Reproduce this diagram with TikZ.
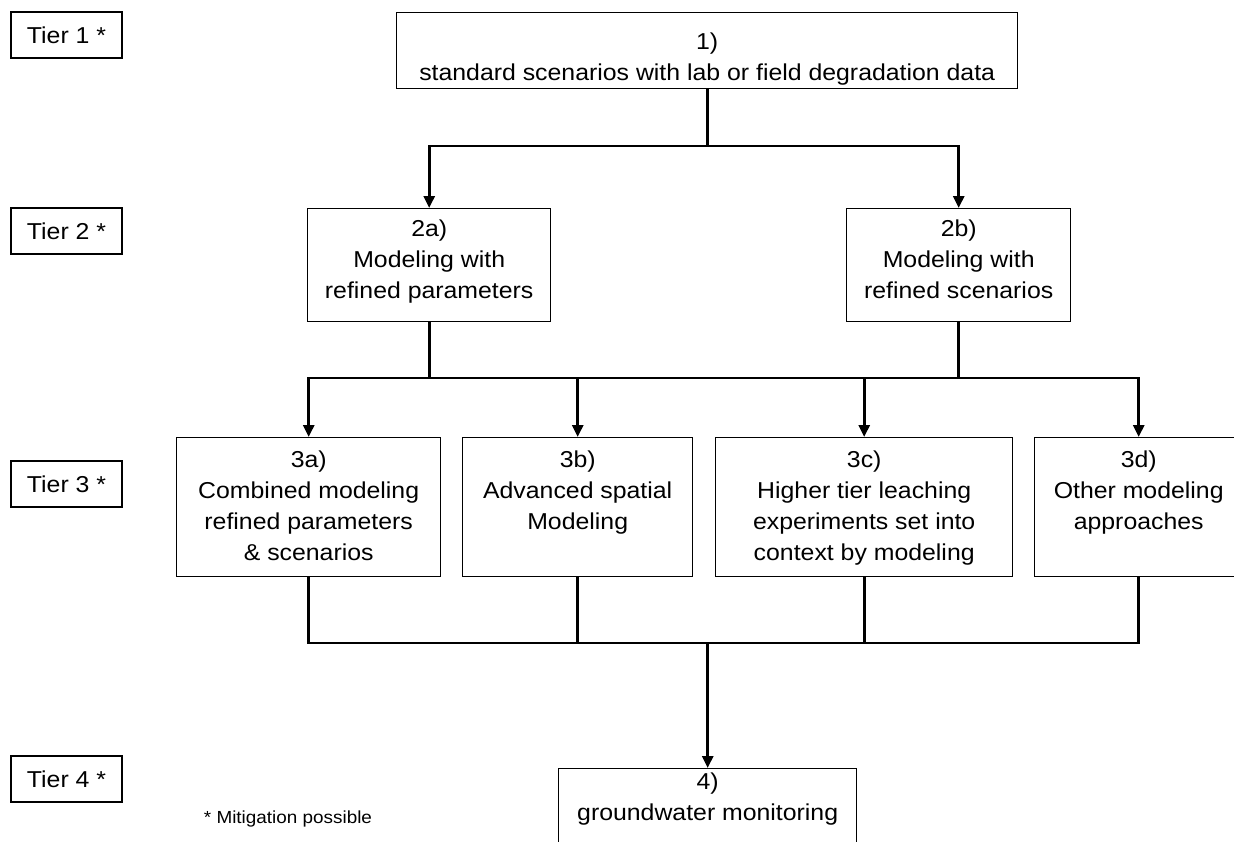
\documentclass[tikz,border=0pt]{standalone}
\usepackage{fontspec}
\setmainfont{Liberation Sans}[FakeStretch=1.08]
\usetikzlibrary{arrows.meta}
\begin{document}
\begin{tikzpicture}[x=1pt,y=-1pt,
  box/.style={draw, line width=1.4pt, inner sep=0pt, anchor=north west},
  txt/.style={align=center, inner sep=0pt, anchor=north, font=\fontsize{23}{31}\selectfont},
  tier/.style={draw, line width=1.4pt, minimum width=111pt, minimum height=46pt, inner sep=0pt, font=\fontsize{23}{31}\selectfont},
  conn/.style={line width=2.8pt},
  tip/.tip={Triangle[length=12pt,width=11pt]},
  arr/.style={conn, -tip},
  arrb/.style={conn, tip-tip}]
\clip (0,0) rectangle (1234,841);
\fill[white] (0,0) rectangle (1234,841);

% tier labels
\node[tier] (T1) at (66.5,35) {Tier 1 *};
\node[tier] (T2) at (66.5,231) {Tier 2 *};
\node[tier] (T3) at (66.5,484) {Tier 3 *};
\node[tier] (T4) at (66.5,779) {Tier 4 *};

% boxes
\node[box, minimum width=621pt, minimum height=76pt]  (b1)  at (396,12)  {};
\node[box, minimum width=243pt, minimum height=113pt] (b2a) at (307,208) {};
\node[box, minimum width=224pt, minimum height=113pt] (b2b) at (846,208) {};
\node[box, minimum width=264pt, minimum height=139pt] (b3a) at (176,437) {};
\node[box, minimum width=230pt, minimum height=139pt] (b3b) at (462,437) {};
\node[box, minimum width=297pt, minimum height=139pt] (b3c) at (715,437) {};
\node[box, minimum width=208pt, minimum height=139pt] (b3d) at (1034,437) {};
\node[box, minimum width=298pt, minimum height=100pt] (b4)  at (558,768) {};

% texts
\node[txt] (t1)  at ([yshift=-16pt]b1.north)  {\strut 1)\\standard scenarios with lab or field degradation data};
\node[txt] (t2a) at ([yshift=-7pt]b2a.north) {\strut 2a)\\Modeling with\\refined parameters};
\node[txt] (t2b) at ([yshift=-7pt]b2b.north) {\strut 2b)\\Modeling with\\refined scenarios};
\node[txt] (t3a) at ([yshift=-9pt]b3a.north) {\strut 3a)\\Combined modeling\\refined parameters\\\& scenarios};
\node[txt] (t3b) at ([yshift=-9pt]b3b.north) {\strut 3b)\\Advanced spatial\\Modeling};
\node[txt] (t3c) at ([yshift=-9pt]b3c.north) {\strut 3c)\\Higher tier leaching\\experiments set into\\context by modeling};
\node[txt] (t3d) at ([yshift=-9pt]b3d.north) {\strut 3d)\\Other modeling\\approaches};
\node[txt] (t4)  at ([yshift=0pt]b4.north)  {\strut 4)\\groundwater monitoring};

\node[inner sep=0pt, anchor=base, font=\fontsize{17.5}{20}\selectfont] (mit) at (288,823) {* Mitigation possible};

% connector levels
\coordinate (h1) at (0,146);
\coordinate (h2) at (0,378);
\coordinate (h3) at (0,643);

% tier 1 -> tier 2
\draw[conn] (b1.south) -- (b1.south |- h1);
\draw[arrb] (b2a.north) |- (b1.south |- h1) -| (b2b.north);

% tier 2 -> tier 3
\draw[conn] (b2a.south) -- (b2a.south |- h2);
\draw[conn] (b2b.south) -- (b2b.south |- h2);
\draw[arrb] (b3a.north) |- (b3d.north |- h2) -- (b3d.north);
\draw[arr] (b3b.north |- h2) -- (b3b.north);
\draw[arr] (b3c.north |- h2) -- (b3c.north);

% tier 3 -> tier 4
\draw[conn] (b3a.south) |- (b3d.south |- h3) -- (b3d.south);
\draw[conn] (b3b.south) -- (b3b.south |- h3);
\draw[conn] (b3c.south) -- (b3c.south |- h3);
\draw[arr] (b4.north |- h3) -- (b4.north);
\end{tikzpicture}
\end{document}
